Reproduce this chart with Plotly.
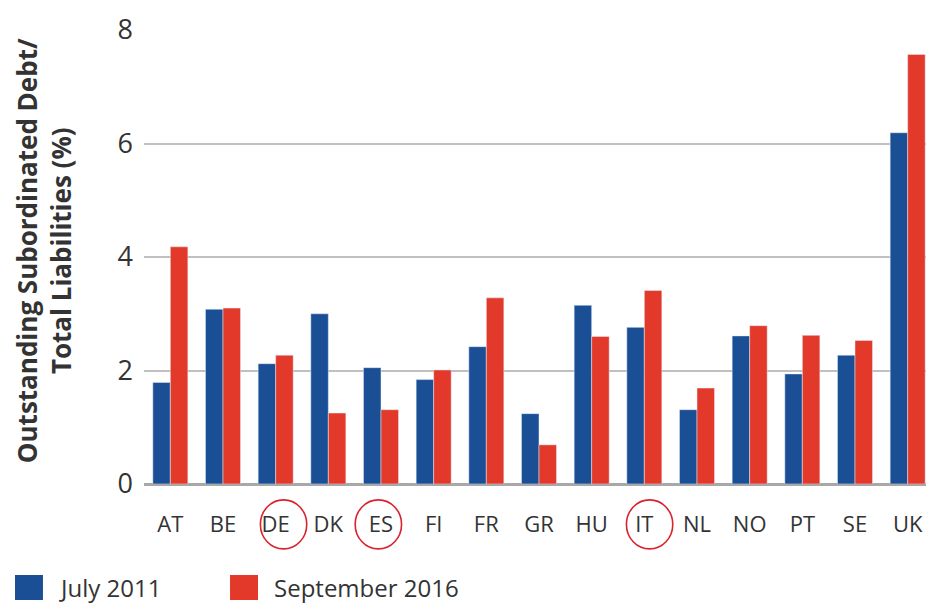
import plotly.graph_objects as go

countries = ["AT", "BE", "DE", "DK", "ES", "FI", "FR", "GR", "HU", "IT", "NL", "NO", "PT", "SE", "UK"]
july_2011 = [1.79, 3.08, 2.12, 3.00, 2.05, 1.84, 2.42, 1.24, 3.15, 2.76, 1.31, 2.61, 1.94, 2.27, 6.19]
sept_2016 = [4.18, 3.10, 2.27, 1.25, 1.31, 2.01, 3.28, 0.69, 2.60, 3.41, 1.69, 2.79, 2.62, 2.53, 7.57]
series_names = ["July 2011", "September 2016"]
highlighted = ["DE", "ES", "IT"]
y_ticks = [0, 2, 4, 6, 8]

BLUE = "#1b4f95"
RED = "#e3392b"
FONT = "Open Sans"
TEXT = "#333333"

fig = go.Figure()
fig.add_trace(go.Bar(x=countries, y=july_2011, name=series_names[0], marker_color=BLUE, showlegend=False))
fig.add_trace(go.Bar(x=countries, y=sept_2016, name=series_names[1], marker_color=RED, showlegend=False))

# red circles around highlighted labels
circle_offsets = {"DE": 0.15, "ES": -0.05, "IT": 0.1}
for c in highlighted:
    i = countries.index(c) + circle_offsets[c]
    fig.add_shape(type="circle", xref="x", yref="paper", x0=i - 0.44, x1=i + 0.44,
                  y0=-0.143, y1=-0.035, line=dict(color="#d9232e", width=1.6))

# manual legend
legend_items = [(series_names[0], BLUE, -0.1633), (series_names[1], RED, 0.1089)]
for name, col, x0 in legend_items:
    fig.add_shape(type="rect", xref="paper", yref="paper", x0=x0, x1=x0 + 0.0354,
                  y0=-0.2555, y1=-0.2004, fillcolor=col, line=dict(width=0))
    fig.add_annotation(xref="paper", yref="paper", x=x0 + 0.054, y=-0.229, text=name,
                       showarrow=False, xanchor="left", yanchor="middle", borderpad=0,
                       font=dict(family=FONT, size=24, color=TEXT))

# y-axis title
fig.add_annotation(xref="paper", yref="paper", x=-0.1265, y=0.513, xanchor="center", yanchor="middle",
                   text="Outstanding Subordinated Debt/<br>Total Liabilities (%)", textangle=-90,
                   showarrow=False, font=dict(family=FONT, size=26, color=TEXT, weight="bold"))

fig.update_layout(
    width=926, height=598,
    margin=dict(l=136, r=0, t=22, b=122),
    paper_bgcolor="white", plot_bgcolor="white",
    barmode="group", bargap=0.335, bargroupgap=0,
    font=dict(family=FONT, color=TEXT),
)
fig.update_xaxes(showgrid=False, ticks="", tickfont=dict(size=22, color=TEXT),
                 ticklabelstandoff=25, showline=False)
fig.update_yaxes(range=[0, 8], tickvals=y_ticks, showgrid=True, gridcolor="#c0c0c0", gridwidth=2,
                 zeroline=True, zerolinecolor="#a8a8a8", zerolinewidth=3, showline=False,
                 ticks="", tickfont=dict(size=27, color=TEXT), ticklabelstandoff=10)

fig.write_html("out.html")
